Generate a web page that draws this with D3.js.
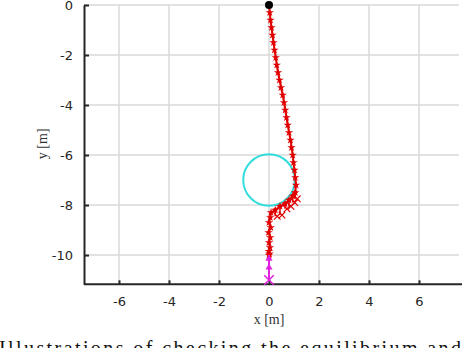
<!DOCTYPE html>
<html>
<head>
<meta charset="utf-8">
<script src="https://cdn.jsdelivr.net/npm/d3@7"></script>
<style>
  body { margin: 0; background: #fff; }
  svg { display: block; }
</style>
</head>
<body>
<svg width="462" height="348"></svg>
<script>
// tick labels
const xTicks = [-6, -4, -2, 0, 2, 4, 6];
const yTicks = [0, -2, -4, -6, -8, -10];

// red trajectory (x, y in metres)
const pathX = [0, 0.03, 0.06, 0.1, 0.14, 0.18, 0.22, 0.27, 0.31, 0.36, 0.42, 0.48, 0.55, 0.6, 0.65, 0.7,
               0.75, 0.8, 0.86, 0.9, 0.95, 0.98, 1.02, 1.05, 1.08, 1.05, 0.95, 0.8, 0.64, 0.44, 0.25, 0.08,
               0.05, 0.0, 0.07, -0.02, 0.05, 0.0, 0.04, -0.01, 0.02, 0];
const pathY = [0, -0.3, -0.6, -0.9, -1.2, -1.5, -1.8, -2.1, -2.4, -2.7, -3.0, -3.3, -3.6, -3.9, -4.2, -4.5,
               -4.8, -5.1, -5.4, -5.7, -6.0, -6.3, -6.6, -6.9, -7.2, -7.5, -7.64, -7.8, -7.95, -8.05, -8.2, -8.3,
               -8.5, -8.7, -8.9, -9.1, -9.3, -9.5, -9.7, -9.85, -9.95, -10];

// stems with x markers under the turn
const stemX = [1.05, 0.95, 0.8, 0.64, 0.44, 0.25];
const stemY0 = [-7.5, -7.64, -7.8, -7.95, -8.05, -8.2];
const stemY1 = [-7.75, -7.9, -8.05, -8.15, -8.4, -8.45];

// magenta segment
const magX = [0, 0, 0, 0];
const magY = [-11.0, -10.5, -10.15, -10.0];

// obstacle circle
const circleX = 0, circleY = -7, circleR = 1.03;

let svg = d3.select("svg");
let x = d3.scaleLinear().domain([-7.4, 7.6]).range([84, 459]);
let y = d3.scaleLinear().domain([0, -11.17]).range([5, 284.3]);

let grid = svg.append("g").attr("class", "grid");
grid.selectAll("line.gx").data(xTicks).enter().append("line")
    .attr("x1", d => x(d)).attr("x2", d => x(d))
    .attr("y1", y(0)).attr("y2", y(-11.17))
    .attr("stroke", "#d9d9d9").attr("stroke-width", 1.5);
grid.selectAll("line.gy").data(yTicks).enter().append("line")
    .attr("y1", d => y(d)).attr("y2", d => y(d))
    .attr("x1", x(-7.4)).attr("x2", x(7.6))
    .attr("stroke", "#d9d9d9").attr("stroke-width", 1.5);

// axes
let xAxis = svg.append("g")
    .attr("transform", `translate(0,${y(-11.17)})`)
    .call(d3.axisBottom(x).tickValues(xTicks).tickSizeInner(-4).tickSizeOuter(0).tickPadding(12)
        .tickFormat(d => d));
let yAxis = svg.append("g")
    .attr("transform", `translate(${x(-7.4)},0)`)
    .call(d3.axisLeft(y).tickValues(yTicks).tickSizeInner(-5).tickSizeOuter(0).tickPadding(11)
        .tickFormat(d => d));

[xAxis, yAxis].forEach(a => {
    a.select(".domain").attr("stroke", "#262626").attr("stroke-width", 2);
    a.selectAll(".tick line").attr("stroke", "#262626").attr("stroke-width", 2);
    a.selectAll(".tick text").attr("fill", "#262626")
        .attr("font-family", "DejaVu Sans").attr("font-size", 13);
});
xAxis.select(".domain").attr("d", `M${x(-7.4)},0H462`);

// labels
svg.append("text")
    .attr("x", x(0)).attr("y", 324)
    .attr("text-anchor", "middle")
    .attr("font-family", "Liberation Serif").attr("font-size", 14).attr("fill", "#333")
    .text("x [m]");
svg.append("text")
    .attr("transform", `translate(47,${y(-5.55)}) rotate(-90)`)
    .attr("text-anchor", "middle")
    .attr("font-family", "Liberation Serif").attr("font-size", 14).attr("fill", "#333")
    .text("y [m]");

// circle
svg.append("circle")
    .attr("cx", x(circleX)).attr("cy", y(circleY))
    .attr("r", x(circleR) - x(0))
    .attr("fill", "none").attr("stroke", "#33dddd").attr("stroke-width", 2);

// trajectory
let pts = pathX.map((d, i) => [d, pathY[i]]);
let line = d3.line().x(d => x(d[0])).y(d => y(d[1]));
svg.append("path").datum(pts)
    .attr("d", line)
    .attr("fill", "none").attr("stroke", "#e00000").attr("stroke-width", 2);

let star = d3.symbol().type(d3.symbolStar).size(22);
svg.append("g").selectAll("path").data(pts).enter().append("path")
    .attr("d", star)
    .attr("transform", d => `translate(${x(d[0])},${y(d[1])})`)
    .attr("fill", "#e00000");

// stems
let stems = svg.append("g");
stemX.forEach((sx, i) => {
    stems.append("line")
        .attr("x1", x(sx)).attr("x2", x(sx))
        .attr("y1", y(stemY0[i])).attr("y2", y(stemY1[i]))
        .attr("stroke", "#e00000").attr("stroke-width", 1.5);
    stems.append("circle")
        .attr("cx", x(sx)).attr("cy", y(stemY0[i])).attr("r", 2.2).attr("fill", "#e00000");
    stems.append("path")
        .attr("d", d3.symbol().type(d3.symbolTimes).size(30))
        .attr("transform", `translate(${x(sx) + 2},${y(stemY1[i])})`)
        .attr("fill", "none").attr("stroke", "#e00000").attr("stroke-width", 1.2);
});

// magenta
let mag = magX.map((d, i) => [d, magY[i]]);
svg.append("path").datum(mag)
    .attr("d", line)
    .attr("fill", "none").attr("stroke", "#e020e0").attr("stroke-width", 2);
svg.append("path")
    .attr("d", d3.symbol().type(d3.symbolTimes).size(60))
    .attr("transform", `translate(${x(magX[0])},${y(magY[0])})`)
    .attr("fill", "none").attr("stroke", "#e020e0").attr("stroke-width", 1.5);
svg.append("g").selectAll("path").data(mag.slice(1, 3)).enter().append("path")
    .attr("d", d3.symbol().type(d3.symbolTriangle).size(22))
    .attr("transform", d => `translate(${x(d[0])},${y(d[1])})`)
    .attr("fill", "#e020e0");

// start dot
svg.append("circle")
    .attr("cx", x(0)).attr("cy", y(0)).attr("r", 4).attr("fill", "#000");

// caption (cut off at the bottom)
svg.append("text")
    .attr("x", -1).attr("y", 355)
    .attr("font-family", "Liberation Serif").attr("font-size", 20).attr("fill", "#111")
    .attr("textLength", 462).attr("lengthAdjust", "spacing")
    .text("Illustrations of checking the equilibrium and");
</script>
</body>
</html>
